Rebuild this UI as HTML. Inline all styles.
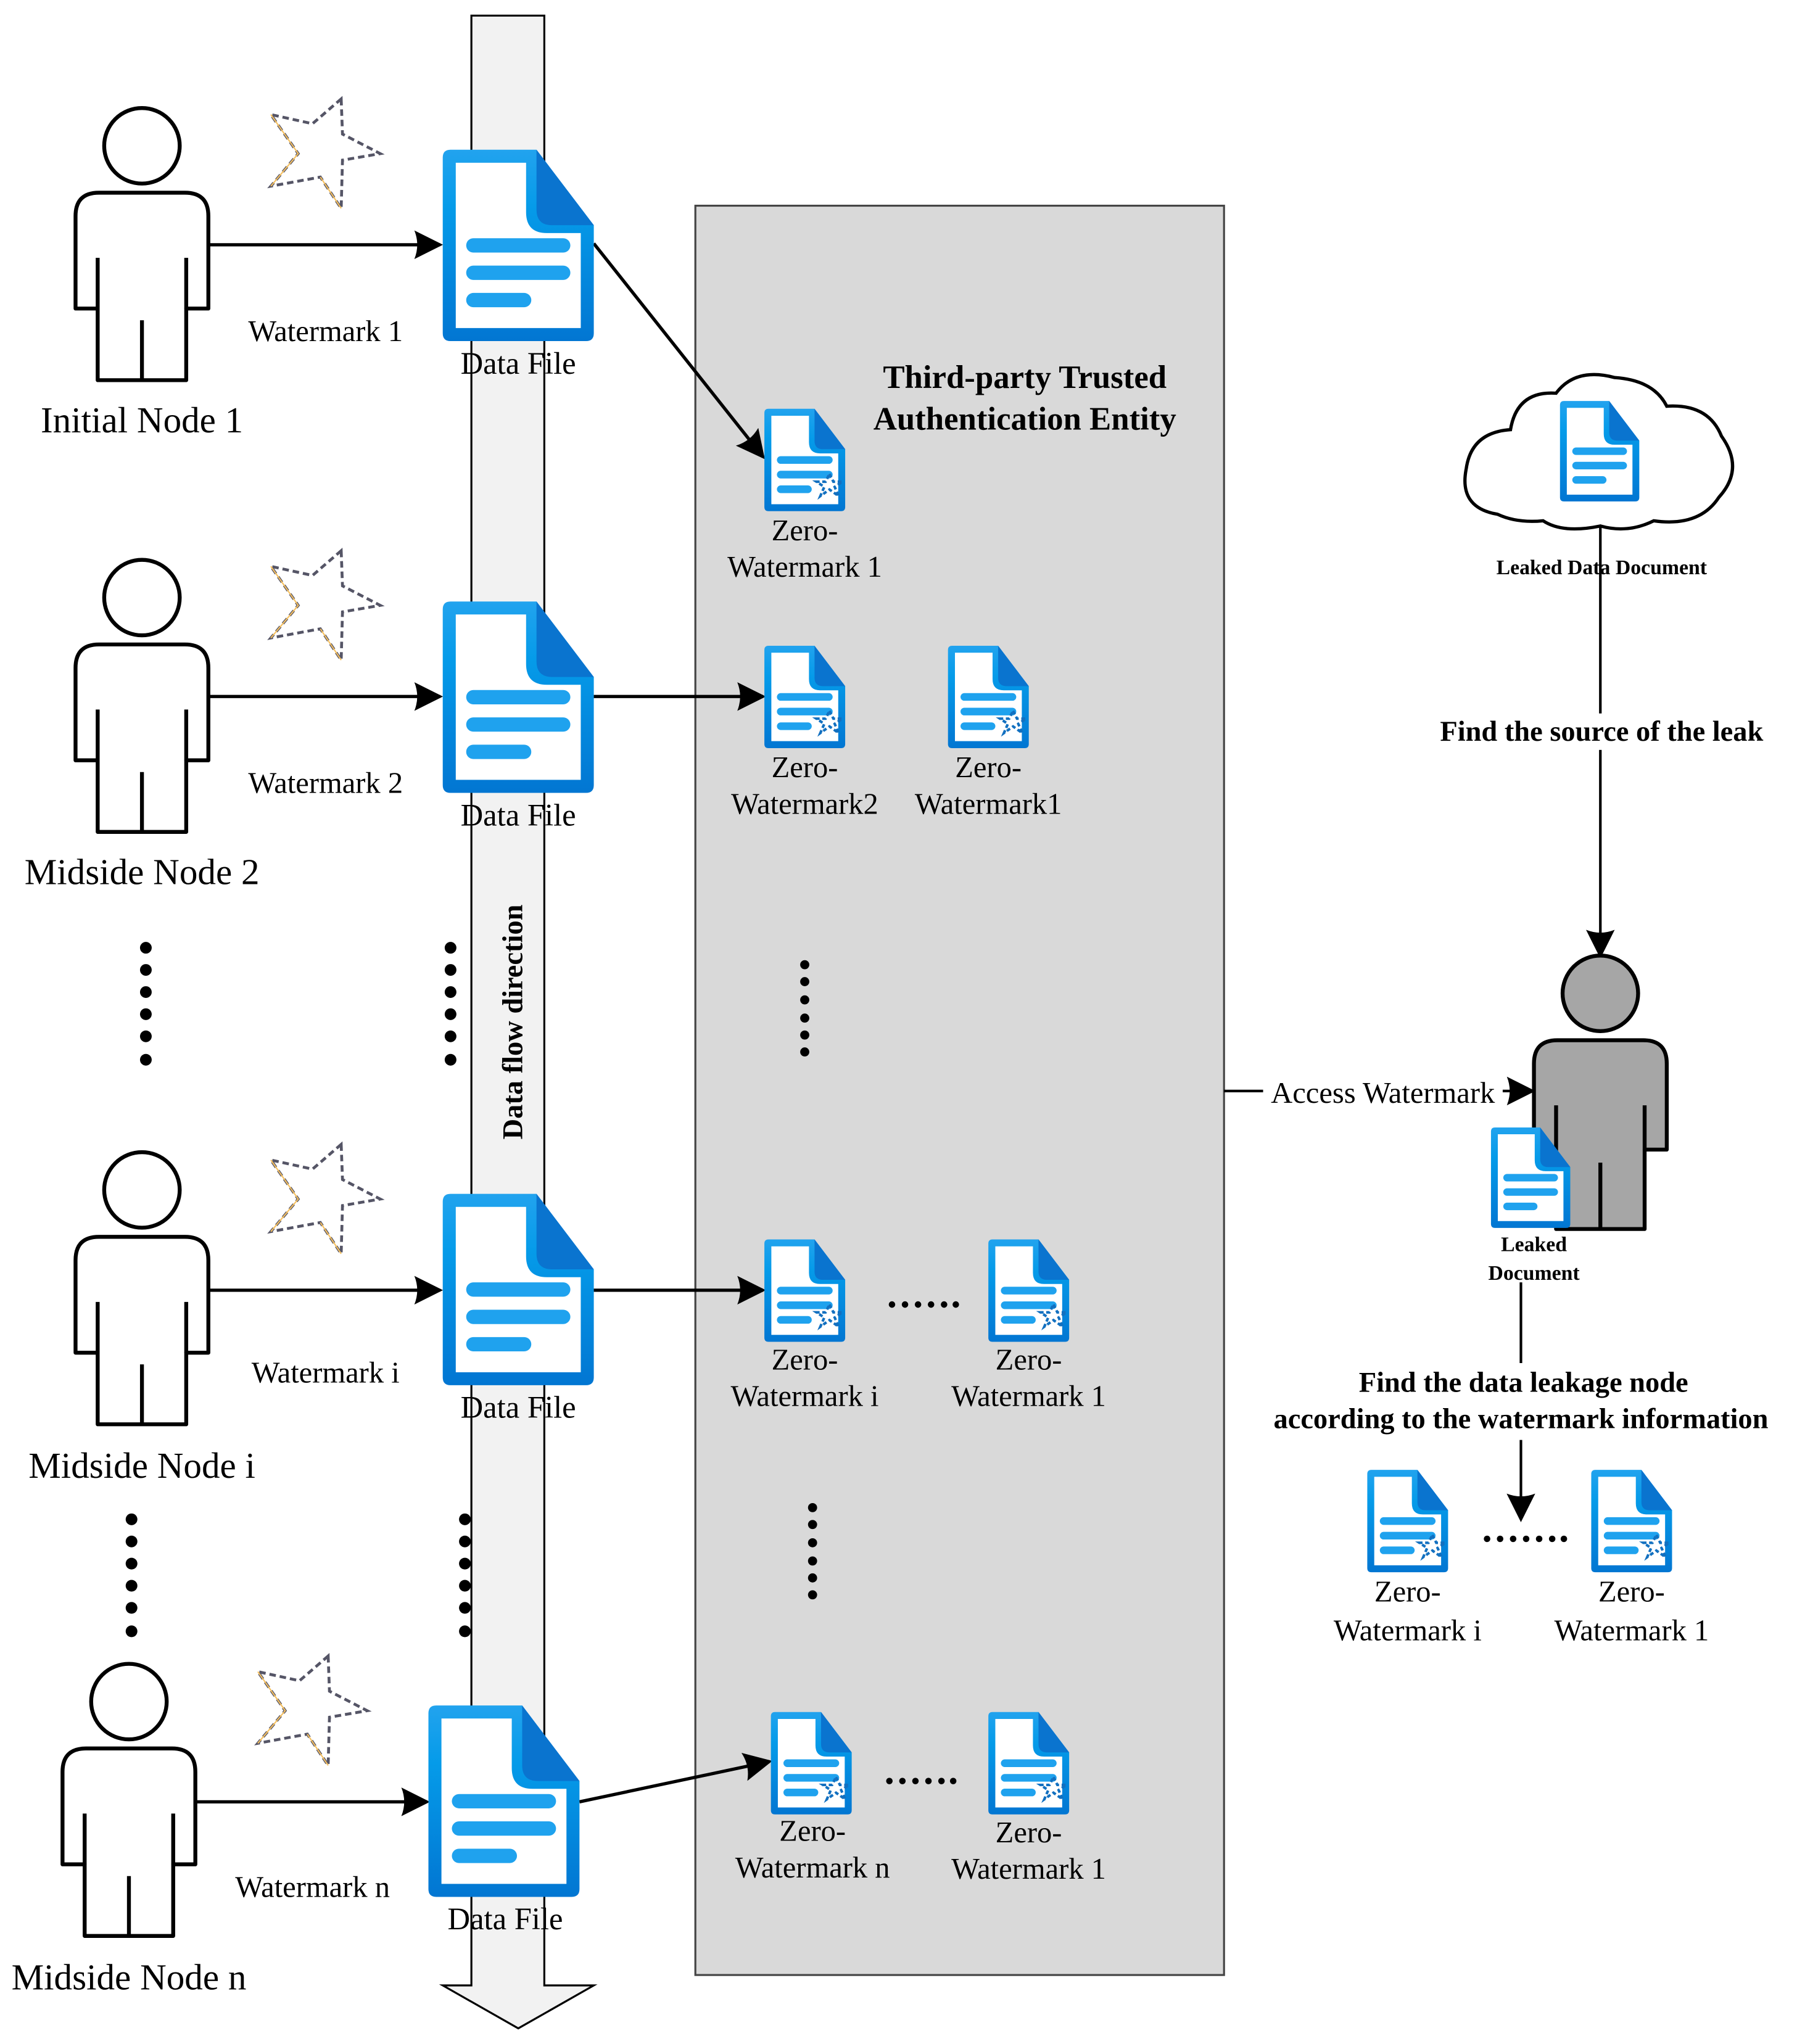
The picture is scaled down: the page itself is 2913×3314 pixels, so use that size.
<!DOCTYPE html>
<html><head><meta charset="utf-8"><style>
html,body{margin:0;padding:0;background:#fff;}
svg{display:block;}
text{font-family:"Liberation Serif",serif;fill:#000;}
.b{font-weight:bold;}
</style></head><body>
<svg width="2913" height="3314" viewBox="0 0 1380 1570" xmlns="http://www.w3.org/2000/svg">
<defs>
<linearGradient id="g" x1="0" y1="0" x2="0" y2="1"><stop offset="0" stop-color="#22a3ee"/><stop offset="0.3" stop-color="#059be9"/><stop offset="1" stop-color="#0276d2"/></linearGradient>
<marker id="ar2" viewBox="0 0 10 10" refX="9" refY="5" markerWidth="22" markerHeight="22" markerUnits="userSpaceOnUse" orient="auto"><path d="M0,0 L10,5 L0,10 Q2,5 0,0Z" fill="#000"/></marker>
<g id="doc">
<path d="M0,6 Q0,0 6,0 H72 L116,58 V141 Q116,147 110,147 H6 Q0,147 0,141 Z" fill="url(#g)"/>
<path d="M10,10 H64 V48 Q64,64 80,64 H106 V137 H10 Z" fill="#fff"/>
<path d="M72,0 L116,58 H84 Q72,58 72,46 Z" fill="#0a74cf"/>
<rect x="18" y="68" width="80" height="11" rx="5.5" fill="#1fa2ee"/>
<rect x="18" y="89" width="80" height="11" rx="5.5" fill="#1fa2ee"/>
<rect x="18" y="110" width="50" height="11" rx="5.5" fill="#1fa2ee"/>
</g>
<g id="sdoc">
<use href="#doc" transform="scale(0.535)"/>
<path d="M50,50 L53,56 L60,56 L54,60 L57,67 L50,62 L43,67 L46,60 L40,56 L47,56Z" fill="none" stroke="#1270c0" stroke-width="2" stroke-dasharray="3,2"/>
</g>
<g id="star">
<path d="M12,-42 L13,-15 L42,0 L13,5 L12,42 L-4,18 L-42,25 L-21,0 L-42,-30 L-10,-23Z" fill="#fff" stroke="#555566" stroke-width="2.2" stroke-dasharray="5,3"/>
<path d="M-42,-30 L-21,0 L-42,25 M-4,18 L12,42" fill="none" stroke="#f5c060" stroke-width="1" />
</g>
<g id="person">
<circle cx="0" cy="0" r="29" fill="#fff" stroke="#000" stroke-width="3"/>
<path d="M-51,125 V54 Q-51,36 -33,36 H33 Q51,36 51,54 V125 H34 V180 H-34 V125 Z" fill="#fff" stroke="#000" stroke-width="3" stroke-linejoin="round"/>
<path d="M-34,86 V125 M34,86 V125 M0,134 V180" stroke="#000" stroke-width="3"/>
</g>
</defs>

<path d="M362,12 H418 V1525 H456 L398,1558 L340,1525 H362 Z" fill="#f2f2f2" stroke="#000" stroke-width="1.5"/>
<text class="b" font-size="22" transform="translate(401,785) rotate(-90)" text-anchor="middle">Data flow direction</text>

<rect x="534" y="158" width="406" height="1359" fill="#d9d9d9" stroke="#444" stroke-width="1.5"/>
<text class="b" font-size="25" x="787" y="298" text-anchor="middle">Third-party Trusted</text>
<text class="b" font-size="25" x="787" y="330" text-anchor="middle">Authentication Entity</text>

<use href="#person" transform="translate(109,112)"/>
<use href="#person" transform="translate(109,459)"/>
<use href="#person" transform="translate(109,914)"/>
<use href="#person" transform="translate(99,1307)"/>
<g font-size="28" text-anchor="middle">
<text x="109" y="332">Initial Node 1</text>
<text x="109" y="679">Midside Node 2</text>
<text x="109" y="1135">Midside Node i</text>
<text x="99" y="1528">Midside Node n</text>
</g>

<use href="#star" transform="translate(250,118)"/>
<use href="#star" transform="translate(250,465)"/>
<use href="#star" transform="translate(250,921)"/>
<use href="#star" transform="translate(240,1314)"/>

<g stroke="#000" stroke-width="2.5" fill="none">
<line x1="160" y1="188" x2="338" y2="188" marker-end="url(#ar2)"/>
<line x1="160" y1="535" x2="338" y2="535" marker-end="url(#ar2)"/>
<line x1="160" y1="991" x2="338" y2="991" marker-end="url(#ar2)"/>
<line x1="150" y1="1384" x2="328" y2="1384" marker-end="url(#ar2)"/>
<line x1="456" y1="187" x2="586" y2="351" marker-end="url(#ar2)"/>
<line x1="456" y1="535" x2="586" y2="535" marker-end="url(#ar2)"/>
<line x1="456" y1="991" x2="586" y2="991" marker-end="url(#ar2)"/>
<line x1="445" y1="1384" x2="591" y2="1353" marker-end="url(#ar2)"/>
</g>

<use href="#doc" transform="translate(340,115)"/>
<use href="#doc" transform="translate(340,462)"/>
<use href="#doc" transform="translate(340,917)"/>
<use href="#doc" transform="translate(329,1310)"/>
<g font-size="24" text-anchor="middle">
<text x="398" y="287">Data File</text>
<text x="398" y="634">Data File</text>
<text x="398" y="1089">Data File</text>
<text x="388" y="1482">Data File</text>
</g>
<g font-size="23" text-anchor="middle">
<text x="250" y="262">Watermark 1</text>
<text x="250" y="609">Watermark 2</text>
<text x="250" y="1062">Watermark i</text>
<text x="240" y="1457">Watermark n</text>
</g>

<g fill="#000">
<circle cx="112" cy="728" r="4.5"/><circle cx="112" cy="745" r="4.5"/><circle cx="112" cy="762" r="4.5"/><circle cx="112" cy="779" r="4.5"/><circle cx="112" cy="796" r="4.5"/><circle cx="112" cy="814" r="4.5"/>
<circle cx="346" cy="728" r="4.5"/><circle cx="346" cy="745" r="4.5"/><circle cx="346" cy="762" r="4.5"/><circle cx="346" cy="779" r="4.5"/><circle cx="346" cy="796" r="4.5"/><circle cx="346" cy="814" r="4.5"/>
<circle cx="101" cy="1167" r="4.5"/><circle cx="101" cy="1184" r="4.5"/><circle cx="101" cy="1201" r="4.5"/><circle cx="101" cy="1218" r="4.5"/><circle cx="101" cy="1235" r="4.5"/><circle cx="101" cy="1253" r="4.5"/>
<circle cx="357" cy="1167" r="4.5"/><circle cx="357" cy="1184" r="4.5"/><circle cx="357" cy="1201" r="4.5"/><circle cx="357" cy="1218" r="4.5"/><circle cx="357" cy="1235" r="4.5"/><circle cx="357" cy="1253" r="4.5"/>
<circle cx="618" cy="741" r="3.5"/><circle cx="618" cy="754" r="3.5"/><circle cx="618" cy="768" r="3.5"/><circle cx="618" cy="782" r="3.5"/><circle cx="618" cy="795" r="3.5"/><circle cx="618" cy="808" r="3.5"/>
<circle cx="624" cy="1158" r="3.5"/><circle cx="624" cy="1171" r="3.5"/><circle cx="624" cy="1185" r="3.5"/><circle cx="624" cy="1199" r="3.5"/><circle cx="624" cy="1212" r="3.5"/><circle cx="624" cy="1225" r="3.5"/>
<circle cx="685" cy="1002" r="2.5"/><circle cx="695" cy="1002" r="2.5"/><circle cx="705" cy="1002" r="2.5"/><circle cx="715" cy="1002" r="2.5"/><circle cx="725" cy="1002" r="2.5"/><circle cx="734" cy="1002" r="2.5"/>
<circle cx="683" cy="1368" r="2.5"/><circle cx="693" cy="1368" r="2.5"/><circle cx="703" cy="1368" r="2.5"/><circle cx="713" cy="1368" r="2.5"/><circle cx="723" cy="1368" r="2.5"/><circle cx="732" cy="1368" r="2.5"/>
<circle cx="1142" cy="1182" r="2.5"/><circle cx="1152" cy="1182" r="2.5"/><circle cx="1162" cy="1182" r="2.5"/><circle cx="1172" cy="1182" r="2.5"/><circle cx="1182" cy="1182" r="2.5"/><circle cx="1192" cy="1182" r="2.5"/><circle cx="1201" cy="1182" r="2.5"/>
</g>

<use href="#sdoc" transform="translate(587,314)"/>
<use href="#sdoc" transform="translate(587,496)"/>
<use href="#sdoc" transform="translate(728,496)"/>
<use href="#sdoc" transform="translate(587,952)"/>
<use href="#sdoc" transform="translate(759,952)"/>
<use href="#sdoc" transform="translate(592,1315)"/>
<use href="#sdoc" transform="translate(759,1315)"/>
<use href="#sdoc" transform="translate(1050,1129)"/>
<use href="#sdoc" transform="translate(1222,1129)"/>
<g font-size="23" text-anchor="middle">
<text x="618" y="415">Zero-</text><text x="618" y="443">Watermark 1</text>
<text x="618" y="597">Zero-</text><text x="618" y="625">Watermark2</text>
<text x="759" y="597">Zero-</text><text x="759" y="625">Watermark1</text>
<text x="618" y="1052">Zero-</text><text x="618" y="1080">Watermark i</text>
<text x="790" y="1052">Zero-</text><text x="790" y="1080">Watermark 1</text>
<text x="624" y="1414">Zero-</text><text x="624" y="1442">Watermark n</text>
<text x="790" y="1415">Zero-</text><text x="790" y="1443">Watermark 1</text>
<text x="1081" y="1230">Zero-</text><text x="1081" y="1260">Watermark i</text>
<text x="1253" y="1230">Zero-</text><text x="1253" y="1260">Watermark 1</text>
</g>

<path d="M1150,395 Q1120,390 1126,360 Q1130,332 1160,330 Q1165,300 1195,302 Q1210,282 1240,290 Q1270,292 1280,312 Q1312,310 1322,335 Q1340,360 1320,382 Q1305,405 1270,400 Q1250,410 1229,404 Q1200,410 1185,400 Q1165,402 1150,395 Z" fill="#fff" stroke="#000" stroke-width="2.5"/>
<use href="#doc" transform="translate(1198,308) scale(0.525)"/>
<text class="b" font-size="16" x="1230" y="441" text-anchor="middle">Leaked Data Document</text>

<line x1="1229" y1="405" x2="1229" y2="734" stroke="#000" stroke-width="2" marker-end="url(#ar2)"/>
<rect x="1090" y="548" width="280" height="28" fill="#fff"/>
<text class="b" font-size="22" x="1230" y="569" text-anchor="middle">Find the source of the leak</text>

<g transform="translate(1229,763)">
<circle cx="0" cy="0" r="29" fill="#a6a6a6" stroke="#000" stroke-width="3"/>
<path d="M-51,120 V54 Q-51,36 -33,36 H33 Q51,36 51,54 V120 H34 V181 H-34 V120 Z" fill="#a6a6a6" stroke="#000" stroke-width="3" stroke-linejoin="round"/>
<path d="M-34,86 V120 M34,86 V120 M0,130 V181" stroke="#000" stroke-width="3"/>
</g>
<use href="#doc" transform="translate(1145,866) scale(0.525)"/>
<text class="b" font-size="16" x="1178" y="961" text-anchor="middle">Leaked</text>
<text class="b" font-size="16" x="1178" y="983" text-anchor="middle">Document</text>

<line x1="940" y1="838" x2="1177" y2="838" stroke="#000" stroke-width="2" marker-end="url(#ar2)"/>
<rect x="970" y="826" width="184" height="26" fill="#fff"/>
<text font-size="23" x="1062" y="847" text-anchor="middle">Access Watermark</text>

<line x1="1168" y1="985" x2="1168" y2="1047" stroke="#000" stroke-width="2"/>
<text class="b" font-size="22" x="1170" y="1069" text-anchor="middle">Find the data leakage node</text>
<text class="b" font-size="22" x="1168" y="1097" text-anchor="middle">according to the watermark information</text>
<line x1="1168" y1="1106" x2="1168" y2="1167" stroke="#000" stroke-width="2" marker-end="url(#ar2)"/>
</svg>
</body></html>
